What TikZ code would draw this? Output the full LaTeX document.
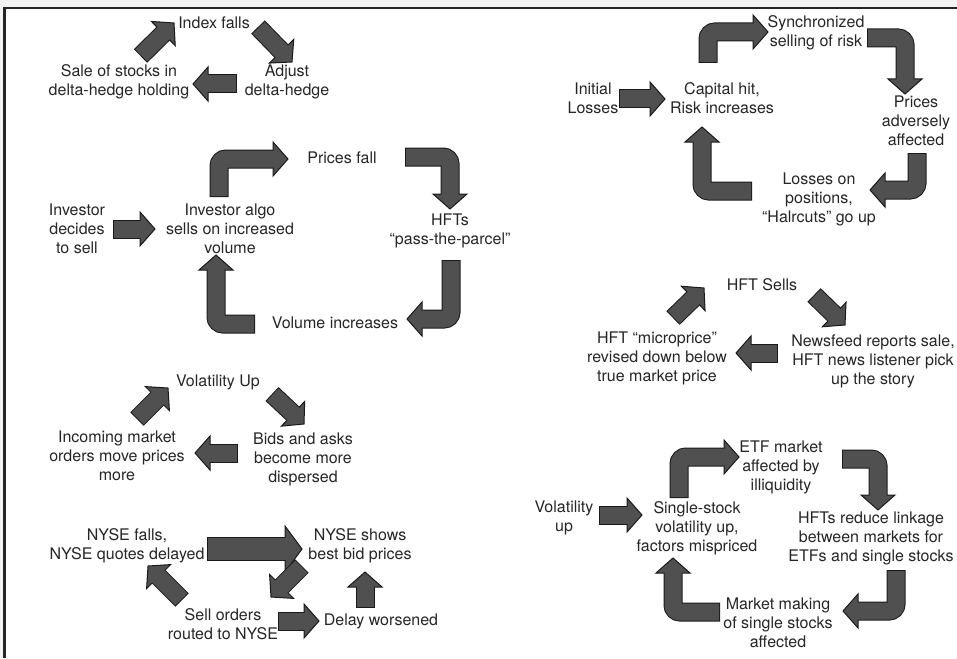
\documentclass[tikz,border=0pt]{standalone}
\usepackage{fontspec}
\setmainfont{TeX Gyre Heros}
\usetikzlibrary{calc}
\definecolor{arrfill}{HTML}{505050}
\definecolor{arrline}{HTML}{1A1A1A}
\definecolor{txtc}{HTML}{262626}
\definecolor{outside}{HTML}{F3F3F3}
\tikzset{txt/.style={align=center, text=txtc, font=\fontsize{16}{19}\selectfont, inner sep=0pt}}
\def\bksw{17}\def\bkhw{17}\def\bkhl{15}\def\bklw{1}
\newcommand\blk[3]{%
  \pgfmathsetmacro\bkow{\bksw+2*\bklw}%
  \pgfmathsetmacro\bkhle{\bkhl-1.5}%
  \coordinate (hb) at ($(#3)!\bkhl pt!(#2)$);%
  \coordinate (he) at ($(#3)!\bkhle pt!(#2)$);%
  \draw[arrline, line width=\bkow pt, rounded corners=7pt] #1 -- (hb);%
  \filldraw[fill=arrfill, draw=arrline, line width=\bklw pt, line join=miter] ($(hb)!\bkhw pt!90:(#3)$) -- (#3) -- ($(hb)!\bkhw pt!-90:(#3)$) -- cycle;%
  \draw[arrfill, line width=\bksw pt, rounded corners=7pt, shorten <=\bklw pt] #1 -- (he);%
}
\begin{document}
\begin{tikzpicture}[x=1pt,y=-1pt]
\useasboundingbox (0,0) rectangle (957,658);
\fill[outside] (0,0) rectangle (957,658);
\fill[white] (4.5,8) rectangle (957,658);
\draw[line width=2.5pt, color=black!85] (4.5,658) -- (4.5,8) -- (957,8);

% ---------- panel 1
\node[txt] (idx) at (214,23) {Index falls};
\node[txt] (sale) at (119,82) {Sale of stocks in\\delta-hedge holding};
\node[txt] (adj) at (287,82) {Adjust\\delta-hedge};
\coordinate (a1t) at (140.5,56); \coordinate (a1h) at (174,23);
\coordinate (a2t) at (258,27);   \coordinate (a2h) at (292,62);
\coordinate (a3t) at (237,84);   \coordinate (a3h) at (193,84);
\blk{(a1t)}{a1t}{a1h}
\blk{(a2t)}{a2t}{a2h}
\blk{(a3t)}{a3t}{a3h}

% ---------- panel 2
\node[txt] (inv) at (77,229) {Investor\\decides\\to sell};
\node[txt] (algo) at (230,229) {Investor algo\\sells on increased\\volume};
\node[txt] (pf) at (342,158) {Prices fall};
\node[txt] (hfts) at (450,231) {HFTs\\“pass-the-parcel”};
\node[txt] (vi) at (335,323) {Volume increases};
\coordinate (b0t) at (113,229); \coordinate (b0h) at (155,229);
\coordinate (b1t) at (219,197); \coordinate (b1c) at (219,159); \coordinate (b1h) at (288,159);
\coordinate (b2t) at (405,157); \coordinate (b2c) at (450,157); \coordinate (b2h) at (450,209);
\coordinate (b3t) at (451,260); \coordinate (b3c) at (451,319); \coordinate (b3h) at (407,319);
\coordinate (b4t) at (255,324); \coordinate (b4c) at (216,324); \coordinate (b4h) at (216,255);
\blk{(b0t)}{b0t}{b0h}
\blk{(b1t) -- (b1c)}{b1c}{b1h}
\blk{(b2t) -- (b2c)}{b2c}{b2h}
\blk{(b3t) -- (b3c)}{b3c}{b3h}
\blk{(b4t) -- (b4c)}{b4c}{b4h}

% ---------- panel 3
\node[txt] (vu) at (218,382) {Volatility Up};
\node[txt] (inc) at (117,456) {Incoming market\\orders move prices\\more};
\node[txt] (bids) at (303,459) {Bids and asks\\become more\\dispersed};
\coordinate (c1t) at (137,419); \coordinate (c1h) at (168,388);
\coordinate (c2t) at (272,394); \coordinate (c2h) at (304,424);
\coordinate (c3t) at (238,453); \coordinate (c3h) at (195,453);
\blk{(c1t)}{c1t}{c1h}
\blk{(c2t)}{c2t}{c2h}
\blk{(c3t)}{c3t}{c3h}

% ---------- panel 4
\node[txt] (nyf) at (127,546) {NYSE falls,\\NYSE quotes delayed};
\node[txt] (nys) at (360,546) {NYSE shows\\best bid prices};
\node[txt] (sell) at (223,624) {Sell orders\\routed to NYSE};
\node[txt] (dw) at (381,621) {Delay worsened};
\coordinate (d1t) at (207,549); \coordinate (d1h) at (302,549);
\coordinate (d2t) at (302,566); \coordinate (d2h) at (271,597);
\coordinate (d3t) at (182,600); \coordinate (d3h) at (148,566);
\coordinate (d4t) at (278,621); \coordinate (d4h) at (319,621);
\coordinate (d5t) at (365,608); \coordinate (d5h) at (365,572);
\begin{scope}
\def\bksw{22}\def\bkhw{23}\def\bkhl{17}
\blk{(d1t)}{d1t}{d1h}
\end{scope}
\blk{(d2t)}{d2t}{d2h}
\blk{(d3t)}{d3t}{d3h}
\blk{(d4t)}{d4t}{d4h}
\blk{(d5t)}{d5t}{d5h}

% ---------- panel 5
\node[txt] (il) at (593,98) {Initial\\Losses};
\node[txt] (cap) at (722,98) {Capital hit,\\Risk increases};
\node[txt] (sync) at (816,33) {Synchronized\\selling of risk};
\node[txt] (pa) at (916,121) {Prices\\adversely\\affected};
\node[txt] (lop) at (819,199) {Losses on\\positions,\\“Halrcuts” go up};
\coordinate (e0t) at (619,99); \coordinate (e0h) at (665,99);
\coordinate (e1t) at (708,63); \coordinate (e1c) at (708,32); \coordinate (e1h) at (768,32);
\coordinate (e2t) at (867,38); \coordinate (e2c) at (905,38); \coordinate (e2h) at (905,94);
\coordinate (e3t) at (917,153); \coordinate (e3c) at (917,190); \coordinate (e3h) at (870,190);
\coordinate (e4t) at (752,191); \coordinate (e4c) at (702,191); \coordinate (e4h) at (702,127);
\blk{(e0t)}{e0t}{e0h}
\blk{(e1t) -- (e1c)}{e1c}{e1h}
\blk{(e2t) -- (e2c)}{e2c}{e2h}
\blk{(e3t) -- (e3c)}{e3c}{e3h}
\blk{(e4t) -- (e4c)}{e4c}{e4h}

% ---------- panel 6
\node[txt] (hs) at (762,285) {HFT Sells};
\node[txt] (mp) at (657,358) {HFT “microprice”\\revised down below\\true market price};
\node[txt] (nf) at (873,361) {Newsfeed reports sale,\\HFT news listener pick\\up the story};
\coordinate (f1t) at (673,318); \coordinate (f1h) at (704,288);
\coordinate (f2t) at (814,295); \coordinate (f2h) at (845,325);
\coordinate (f3t) at (778,353); \coordinate (f3h) at (736,353);
\blk{(f1t)}{f1t}{f1h}
\blk{(f2t)}{f2t}{f2h}
\blk{(f3t)}{f3t}{f3h}

% ---------- panel 7
\node[txt] (vol) at (564,518) {Volatility\\up};
\node[txt] (ss) at (697,528) {Single-stock\\volatility up,\\factors mispriced};
\node[txt] (etf) at (781,467) {ETF market\\affected by\\illiquidity};
\node[txt] (hr) at (871,538) {HFTs reduce linkage\\between markets for\\ETFs and single stocks};
\node[txt] (mm) at (778,623) {Market making\\of single stocks\\affected};
\coordinate (g0t) at (599,515); \coordinate (g0h) at (642,515);
\coordinate (g1t) at (679,498); \coordinate (g1c) at (679,457); \coordinate (g1h) at (739,457);
\coordinate (g2t) at (842,459); \coordinate (g2c) at (878,459); \coordinate (g2h) at (878,510);
\coordinate (g3t) at (896,570); \coordinate (g3c) at (896,611); \coordinate (g3h) at (843,611);
\coordinate (g4t) at (720,612); \coordinate (g4c) at (673,612); \coordinate (g4h) at (673,558);
\blk{(g0t)}{g0t}{g0h}
\blk{(g1t) -- (g1c)}{g1c}{g1h}
\blk{(g2t) -- (g2c)}{g2c}{g2h}
\blk{(g3t) -- (g3c)}{g3c}{g3h}
\blk{(g4t) -- (g4c)}{g4c}{g4h}
\end{tikzpicture}
\end{document}
